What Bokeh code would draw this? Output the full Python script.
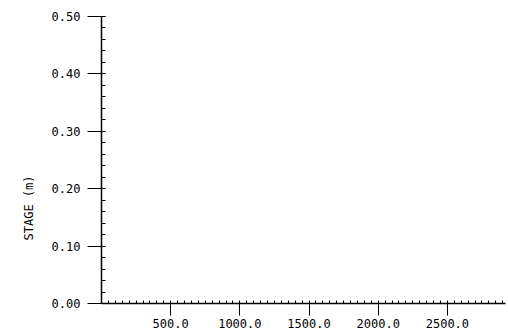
from bokeh.plotting import figure
from bokeh.models import Range1d, FixedTicker, PrintfTickFormatter, Title
from bokeh.embed import file_html
from bokeh.resources import INLINE

# --- chart values ---
x_major_ticks = [500, 1000, 1500, 2000, 2500]
x_minor_ticks = [v * 50 for v in range(0, 59)]
y_major_ticks = [0.0, 0.1, 0.2, 0.3, 0.4, 0.5]
y_minor_ticks = [round(v * 0.02, 2) for v in range(0, 26)]
x_limits = [0, 2920]
y_limits = [0.0, 0.5]
y_title = "STAGE (m)"

FONT = "DejaVu Sans Mono"

p = figure(width=508, height=333, output_backend="svg", toolbar_location=None,
           x_range=Range1d(*x_limits), y_range=Range1d(*y_limits),
           min_border_left=101, min_border_top=16, min_border_right=3,
           min_border_bottom=30)

p.outline_line_color = None
p.xgrid.visible = False
p.ygrid.visible = False
p.background_fill_color = "white"
p.border_fill_color = "white"

xa = p.xaxis[0]
xa.ticker = FixedTicker(ticks=x_major_ticks, minor_ticks=x_minor_ticks)
xa.formatter = PrintfTickFormatter(format="%.1f")
xa.major_tick_out = 12
xa.major_tick_in = 0
xa.minor_tick_in = 3
xa.minor_tick_out = 0
xa.major_label_standoff = 3
xa.axis_line_width = 1.5
xa.axis_line_color = "black"
xa.major_tick_line_color = "black"
xa.minor_tick_line_color = "black"
xa.major_label_text_font = FONT
xa.major_label_text_font_size = "12px"
xa.major_label_text_color = "black"

ya = p.yaxis[0]
ya.ticker = FixedTicker(ticks=y_major_ticks, minor_ticks=y_minor_ticks)
ya.formatter = PrintfTickFormatter(format="%.2f")
ya.major_tick_out = 14
ya.major_tick_in = 4
ya.minor_tick_in = 4
ya.minor_tick_out = 0
ya.major_label_standoff = 7
ya.axis_line_width = 1.5
ya.axis_line_color = "black"
ya.major_tick_line_color = "black"
ya.minor_tick_line_color = "black"
ya.major_label_text_font = FONT
ya.major_label_text_font_size = "12px"
ya.major_label_text_color = "black"

ttl = Title(text=y_title, align="left", offset=63, standoff=22,
            vertical_align="top",
            text_font=FONT, text_font_size="12px", text_font_style="normal",
            text_color="black")
p.add_layout(ttl, "left")

open("out.html", "w").write(file_html(p, INLINE))
